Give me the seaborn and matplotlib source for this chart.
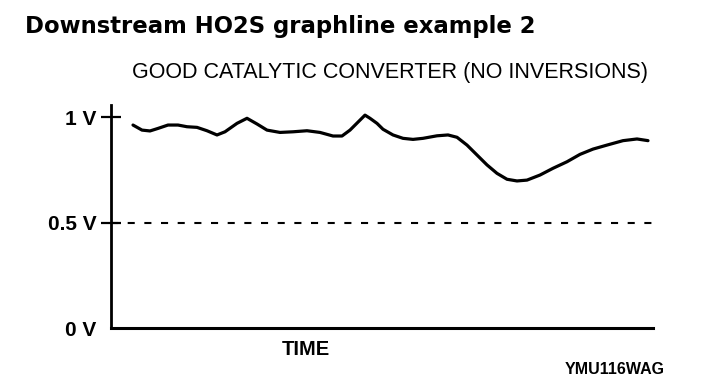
import matplotlib
matplotlib.use("Agg")
import matplotlib.pyplot as plt
import seaborn as sns

# ---- data ----
time_units = [22, 31, 39, 47, 57, 67, 76, 86, 96, 106, 114, 126, 136, 146, 156,
              169, 182, 196, 209, 222, 231, 239, 254, 259, 266, 272, 282, 292,
              302, 312, 326, 337, 346, 356, 366, 376, 386, 396, 406, 416, 429,
              442, 456, 469, 482, 496, 512, 526, 537]
voltage = [0.962, 0.938, 0.934, 0.946, 0.962, 0.962, 0.954, 0.951, 0.935, 0.915,
           0.930, 0.970, 0.994, 0.967, 0.938, 0.927, 0.930, 0.935, 0.927, 0.910,
           0.910, 0.938, 1.009, 0.994, 0.970, 0.942, 0.915, 0.899, 0.894, 0.899,
           0.911, 0.915, 0.904, 0.867, 0.820, 0.773, 0.733, 0.705, 0.697, 0.701,
           0.725, 0.757, 0.788, 0.823, 0.848, 0.867, 0.888, 0.896, 0.888]
tick_values = [0.0, 0.5, 1.0]
tick_labels = ["0 V", "0.5 V", "1 V"]
threshold = 0.5
title = "Downstream HO2S graphline example 2"
subtitle = "GOOD CATALYTIC CONVERTER (NO INVERSIONS)"
xlabel = "TIME"
code = "YMU116WAG"

sns.set_style("white")
plt.rcParams["font.family"] = ["Liberation Sans", "DejaVu Sans"]
plt.rcParams["text.color"] = "black"
plt.rcParams["axes.labelcolor"] = "black"

fig = plt.figure(figsize=(7.04, 3.84), dpi=100)
ax = fig.add_axes([111 / 704, 56 / 384, 542 / 704, 223 / 384])

sns.lineplot(x=time_units, y=voltage, ax=ax, color="black", linewidth=2.3)
ax.axhline(threshold, color="black", linewidth=1.5, dashes=(3.4, 4.6))

ax.set_xlim(0, 542)
ax.set_ylim(0, 1.057)
ax.set_xticks([])
ax.set_yticks(tick_values)
ax.set_yticklabels(tick_labels, fontsize=15, fontweight="bold")
ax.tick_params(axis="y", left=True, direction="inout", length=15, width=1.6,
               pad=3, colors="black")
ax.yaxis.get_major_ticks()[0].tick1line.set_visible(False)

for s in ["top", "right"]:
    ax.spines[s].set_visible(False)
ax.spines["left"].set_linewidth(2)
ax.spines["bottom"].set_linewidth(2.2)
ax.spines["left"].set_color("black")
ax.spines["bottom"].set_color("black")
ax.set_xlabel("")
ax.set_ylabel("")

fig.text(25 / 704, 1 - 33 / 384, title, family="DejaVu Sans", fontweight="bold",
         fontsize=16.4, ha="left", va="baseline", color="black")
fig.text(390 / 704, 1 - 78 / 384, subtitle, fontsize=15.5, ha="center",
         va="baseline", color="black")
fig.text(306 / 704, 1 - 355 / 384, xlabel, fontsize=14.5, fontweight="bold",
         ha="center", va="baseline", color="black")
fig.text(615 / 704, 1 - 374 / 384, code, fontsize=11.5, fontweight="bold",
         ha="center", va="baseline", color="black")

fig.savefig("out.png", dpi=100)
